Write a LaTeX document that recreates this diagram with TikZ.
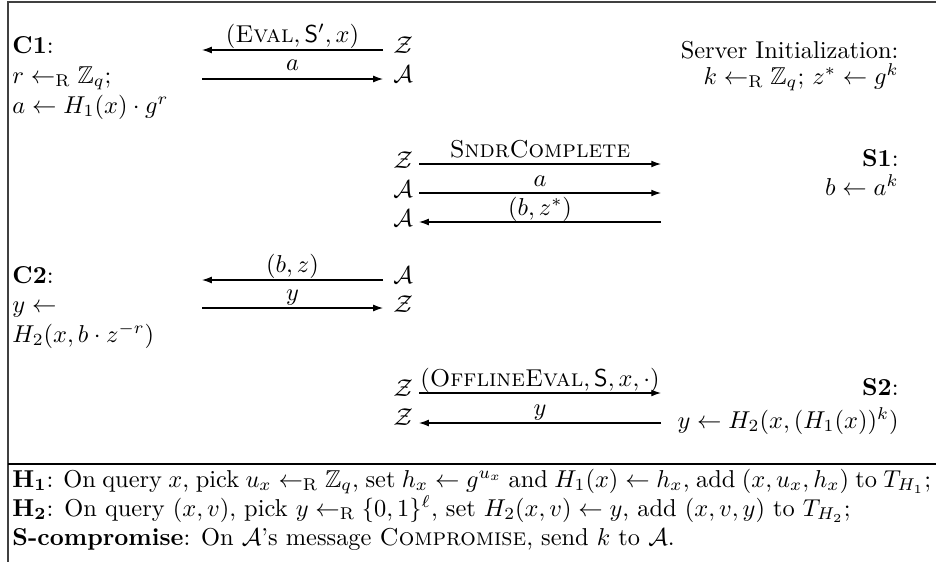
\documentclass[tikz,border=0pt]{standalone}
\usepackage{amsmath,amssymb}
\usetikzlibrary{arrows.meta}
\begin{document}
\begin{tikzpicture}[x=0.4098pt,y=-0.4098pt,
  txt/.style={inner sep=0pt, anchor=base west},
  rtxt/.style={inner sep=0pt, anchor=base east},
  lbl/.style={inner sep=0pt, anchor=base},
  msg/.style={-{Latex[length=4pt,width=2.8pt]}, line width=0.45pt},
  frameline/.style={line width=0.5pt}]
\useasboundingbox (0,0) rectangle (936,562);
% frame
\coordinate (ftr) at (936,2);
\coordinate (ftl) at (8,2);
\coordinate (fbl) at (8,562);
\coordinate (fml) at (8,464);
\coordinate (fmr) at (936,464);
\draw[frameline, black!75] (ftr) -- (ftl) -- (fbl);
\draw[frameline] (fml) -- (fmr);

% ---- C1 ----
\node[txt] (c1) at (12,53) {\textbf{C1}:};
\node[txt] (c1a) at (12,83) {$r \leftarrow_{\mathrm{R}} \mathbb{Z}_q$;};
\node[txt] (c1b) at (12,113) {$a \leftarrow H_1(x)\cdot g^r$};
\node[txt] (z1) at (393,53) {$\mathcal{Z}$};
\node[txt] (a1) at (393,82) {$\mathcal{A}$};
\coordinate (m1r) at (383,50);
\coordinate (m1l) at (202,50);
\coordinate (m2l) at (202,79);
\coordinate (m2r) at (383,79);
\draw[msg] (m1r) -- (m1l);
\draw[msg] (m2l) -- (m2r);
\node[lbl] (l1) at (292.5,42) {$(\textsc{Eval}, \mathsf{S}', x)$};
\node[lbl] (l2) at (292.5,70) {$a$};

% ---- Server init ----
\node[rtxt] (si) at (899,58) {Server Initialization:};
\node[rtxt] (sia) at (899,84) {$k \leftarrow_{\mathrm{R}} \mathbb{Z}_q$; $z^* \leftarrow g^k$};

% ---- S1 ----
\node[txt] (z2) at (393,168) {$\mathcal{Z}$};
\node[txt] (a2) at (393,197) {$\mathcal{A}$};
\node[txt] (a3) at (393,226) {$\mathcal{A}$};
\coordinate (m3l) at (419,164);
\coordinate (m3r) at (661,164);
\coordinate (m4l) at (419,193);
\coordinate (m4r) at (661,193);
\coordinate (m5r) at (661,222);
\coordinate (m5l) at (419,222);
\draw[msg] (m3l) -- (m3r);
\draw[msg] (m4l) -- (m4r);
\draw[msg] (m5r) -- (m5l);
\node[lbl] (l3) at (540,157) {\textsc{SndrComplete}};
\node[lbl] (l4) at (540,186) {$a$};
\node[lbl] (l5) at (540,215) {$(b, z^*)$};
\node[rtxt] (s1) at (899,166) {\textbf{S1}:};
\node[rtxt] (s1a) at (899,195) {$b \leftarrow a^k$};

% ---- C2 ----
\node[txt] (c2) at (12,283) {\textbf{C2}:};
\node[txt] (c2a) at (12,312) {$y \leftarrow$};
\node[txt] (c2b) at (12,342) {$H_2(x, b\cdot z^{-r})$};
\node[txt] (a4) at (393,283) {$\mathcal{A}$};
\node[txt] (z3) at (393,312) {$\mathcal{Z}$};
\coordinate (m6r) at (383,280);
\coordinate (m6l) at (202,280);
\coordinate (m7l) at (202,308);
\coordinate (m7r) at (383,308);
\draw[msg] (m6r) -- (m6l);
\draw[msg] (m7l) -- (m7r);
\node[lbl] (l6) at (292.5,272) {$(b, z)$};
\node[lbl] (l7) at (292.5,300) {$y$};

% ---- S2 ----
\node[txt] (z4) at (393,396) {$\mathcal{Z}$};
\node[txt] (z5) at (393,425) {$\mathcal{Z}$};
\coordinate (m8l) at (419,393);
\coordinate (m8r) at (661,393);
\coordinate (m9r) at (661,423);
\coordinate (m9l) at (419,423);
\draw[msg] (m8l) -- (m8r);
\draw[msg] (m9r) -- (m9l);
\node[lbl] (l8) at (540,386) {$(\textsc{OfflineEval}, \mathsf{S}, x, \cdot)$};
\node[lbl] (l9) at (540,415) {$y$};
\node[rtxt] (s2) at (899,395) {\textbf{S2}:};
\node[rtxt] (s2a) at (899,428) {$y \leftarrow H_2(x, (H_1(x))^k)$};

% ---- oracles ----
\node[txt] (h1) at (12,487) {\hbox to 376.5pt{$\mathbf{H_1}$: On query $x$, pick $u_x \leftarrow_{\mathrm{R}} \mathbb{Z}_q$, set $h_x \leftarrow g^{u_x}$ and $H_1(x) \leftarrow h_x$, add $(x, u_x, h_x)$ to $T_{H_1}$;}};
\node[txt] (h2) at (12,516) {$\mathbf{H_2}$: On query $(x, v)$, pick $y \leftarrow_{\mathrm{R}} \{0,1\}^\ell$, set $H_2(x, v) \leftarrow y$, add $(x, v, y)$ to $T_{H_2}$;};
\node[txt] (sc) at (12,545) {\textbf{S-compromise}: On $\mathcal{A}$'s message \textsc{Compromise}, send $k$ to $\mathcal{A}$.};
\end{tikzpicture}
\end{document}
